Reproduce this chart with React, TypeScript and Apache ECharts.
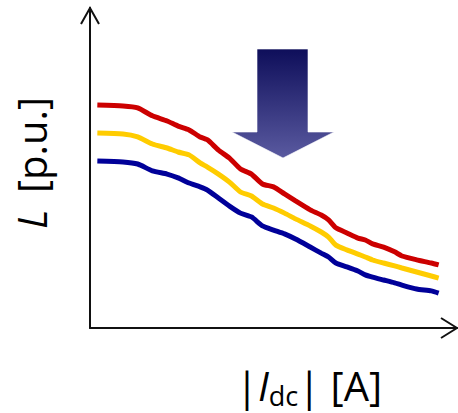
import React, { useEffect, useRef } from "react";
import * as echarts from "echarts";

// |Idc| [A] (arbitrary units along the axis)
const currents = [2, 9, 13, 17, 21, 24, 27, 30, 32, 35, 38, 41, 44, 47, 50, 53, 56, 60, 63, 65, 67, 70, 73, 75, 77, 80, 83, 85, 89, 93, 95];

// L [p.u.]
const redL = [0.697, 0.694, 0.688, 0.663, 0.647, 0.631, 0.619, 0.597, 0.588, 0.556, 0.531, 0.497, 0.481, 0.45, 0.441, 0.419, 0.397, 0.369, 0.353, 0.338, 0.313, 0.297, 0.281, 0.275, 0.263, 0.253, 0.238, 0.225, 0.213, 0.203, 0.197];
const yellowL = [0.609, 0.606, 0.597, 0.575, 0.5625, 0.55, 0.541, 0.516, 0.503, 0.481, 0.456, 0.425, 0.4125, 0.3875, 0.375, 0.359, 0.341, 0.319, 0.3, 0.284, 0.259, 0.244, 0.231, 0.222, 0.2125, 0.203, 0.194, 0.1875, 0.175, 0.1625, 0.156];
const blueL = [0.522, 0.519, 0.5125, 0.491, 0.481, 0.469, 0.453, 0.441, 0.431, 0.406, 0.381, 0.359, 0.347, 0.319, 0.306, 0.294, 0.278, 0.253, 0.234, 0.222, 0.203, 0.191, 0.178, 0.166, 0.159, 0.15, 0.141, 0.134, 0.122, 0.116, 0.109];

const seriesDefs = [
  { name: "high", values: redL, color: "#cc0000" },
  { name: "mid", values: yellowL, color: "#ffcc00" },
  { name: "low", values: blueL, color: "#000099" },
];

const FONT = "'Open Sans', sans-serif";

export default function App() {
  const ref = useRef<HTMLDivElement>(null);
  useEffect(() => {
    if (!ref.current) return;
    const chart = echarts.init(ref.current, null, { renderer: "svg" });
    chart.setOption({
      animation: false,
      grid: { left: 90, top: 8, right: 1, bottom: 85 },
      xAxis: {
        type: "value",
        min: 0,
        max: 100,
        axisLine: { show: true, lineStyle: { color: "#111", width: 2 } },
        axisTick: { show: false },
        axisLabel: { show: false },
        splitLine: { show: false },
      },
      yAxis: {
        type: "value",
        min: 0,
        max: 1,
        axisLine: { show: true, lineStyle: { color: "#111", width: 2 } },
        axisTick: { show: false },
        axisLabel: { show: false },
        splitLine: { show: false },
      },
      series: seriesDefs.map((s) => ({
        type: "line",
        name: s.name,
        data: currents.map((x, i) => [x, s.values[i]]),
        showSymbol: false,
        smooth: 0.2,
        lineStyle: { color: s.color, width: 5 },
        z: 3,
      })),
      graphic: [
        // axis arrowheads
        {
          type: "polyline",
          shape: { points: [[81, 24], [90, 8], [99, 24]] },
          style: { stroke: "#111", lineWidth: 2, fill: null },
        },
        {
          type: "polyline",
          shape: { points: [[441, 318], [457, 328], [441, 338]] },
          style: { stroke: "#111", lineWidth: 2, fill: null },
        },
        // big downward arrow
        {
          type: "polygon",
          shape: {
            points: [[257, 49], [308, 49], [308, 132], [334, 132], [283, 158], [232, 132], [257, 132]],
          },
          style: {
            fill: new echarts.graphic.LinearGradient(0, 0, 0, 1, [
              { offset: 0, color: "#0e0e5a" },
              { offset: 1, color: "#5a5aa0" },
            ]),
            stroke: "rgba(255,255,255,0.6)",
            lineWidth: 1,
          },
          z: 10,
        },
        // x axis title
        {
          type: "text",
          x: 309,
          y: 385,
          style: {
            text: "{n||}{i|I}{s|dc}{n||}{n| [A]}",
            align: "center",
            verticalAlign: "middle",
            fontFamily: FONT,
            fontSize: 40,
            fill: "#000",
            rich: {
              n: { fontFamily: FONT, fontSize: 40, lineHeight: 48, verticalAlign: "middle", fill: "#000" },
              i: { fontFamily: FONT, fontSize: 40, fontStyle: "italic", lineHeight: 48, verticalAlign: "middle", fill: "#000" },
              s: { fontFamily: FONT, fontSize: 27, lineHeight: 27, verticalAlign: "bottom", fill: "#000" },
            },
          },
        },
        // y axis title: italic L
        {
          type: "text",
          x: 31,
          y: 229,
          rotation: Math.PI / 2,
          style: {
            text: "L",
            align: "left",
            verticalAlign: "middle",
            fontFamily: FONT,
            fontSize: 40,
            fontStyle: "italic",
            fill: "#000",
          },
        },
        // y axis title: unit
        {
          type: "text",
          x: 31,
          y: 193,
          rotation: Math.PI / 2,
          style: {
            text: "[p.u.]",
            align: "left",
            verticalAlign: "middle",
            fontFamily: FONT,
            fontSize: 40,
            fill: "#000",
          },
        },
      ],
    });
    return () => chart.dispose();
  }, []);
  return <div ref={ref} style={{ width: 458, height: 413, position: "absolute", left: 0, top: 0 }} />;
}
